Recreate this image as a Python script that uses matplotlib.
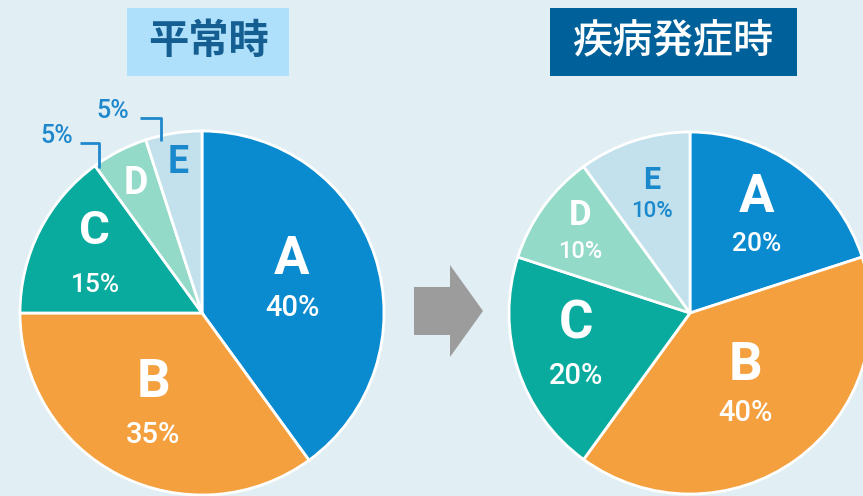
import numpy as np
import matplotlib
matplotlib.use("Agg")
import matplotlib.pyplot as plt
from matplotlib.patches import Rectangle, FancyArrow

W, H = 863, 496

# data
labels = ["A", "B", "C", "D", "E"]
normal_vals = [40, 35, 15, 5, 5]
disease_vals = [20, 40, 20, 10, 10]
titles = ["平常時", "疾病発症時"]

colors = ["#0a8bd0", "#f4a03e", "#0aab9f", "#93dac9", "#c3e1ec"]
txt_colors = ["white", "white", "white", "white", "#1a88cc"]
BG = "#e1eff5"

def py(y):  # pixel row -> data y
    return H - y

fig = plt.figure(figsize=(W / 100, H / 100), dpi=100, facecolor=BG)
ax = fig.add_axes([0, 0, 1, 1])
ax.set_facecolor(BG)

def draw_pie(vals, cx, cy, r, rfac, letter_fs, pct_fs, gap, show_pct):
    ax.pie(vals, center=(cx, py(cy)), radius=r, startangle=90, counterclock=False,
           colors=colors, wedgeprops=dict(edgecolor="white", linewidth=2))
    start = 90.0
    for i, v in enumerate(vals):
        span = v / sum(vals) * 360
        mid = np.radians(start - span / 2)
        start -= span
        x = cx + rfac[i] * r * np.cos(mid)
        y = cy - rfac[i] * r * np.sin(mid)
        if show_pct[i]:
            ax.text(x, py(y - gap[i]), labels[i], ha="center", va="center",
                    fontsize=letter_fs[i], fontweight="bold", color=txt_colors[i], family="Roboto")
            ax.text(x, py(y + gap[i]), f"{v}%", ha="center", va="center",
                    fontsize=pct_fs[i], fontweight="medium", color=txt_colors[i], family="Roboto")
        else:
            ax.text(x, py(y), labels[i], ha="center", va="center",
                    fontsize=letter_fs[i], fontweight="bold", color=txt_colors[i], family="Roboto")

# left pie (normal)
draw_pie(normal_vals, 202, 313, 182,
         rfac=[0.52, 0.59, 0.66, 0.80, 0.84],
         letter_fs=[38, 38, 34, 27, 27], pct_fs=[21, 21, 19, 17, 17],
         gap=[24, 26, 27, 0, 0], show_pct=[True, True, True, False, False])

# small-slice callouts
for (tx, ty, pts), v in zip([(57, 136, [(80, 143), (99, 143), (99, 168)]),
                             (113, 111, [(140, 118), (161, 118), (161, 141)])],
                            normal_vals[3:]):
    ax.text(tx, py(ty), f"{v}%", ha="center", va="center", fontsize=18,
            fontweight="medium", color="#1f88cc", family="Roboto")
    xs, ys = zip(*pts)
    ax.plot(xs, [py(y) for y in ys], color="#1f88cc", lw=2, solid_capstyle="butt")

# right pie (disease)
draw_pie(disease_vals, 690, 313, 181,
         rfac=[0.63, 0.52, 0.66, 0.75, 0.68],
         letter_fs=[38, 38, 38, 25, 22], pct_fs=[19, 21, 21, 17, 16],
         gap=[23, 24, 26, 18, 16], show_pct=[True] * 5)

# arrow
ax.add_patch(FancyArrow(414, py(311), 36, 0, width=48, head_width=92, head_length=33,
                        length_includes_head=False, color="#9c9c9c", lw=0))

# title boxes
ax.add_patch(Rectangle((127, py(76)), 162, 68, color="#aee0fb", lw=0))
ax.text(208, py(41), titles[0], ha="center", va="center", fontsize=29, fontweight="bold",
        color="#155e92", family="Noto Sans CJK JP")
ax.add_patch(Rectangle((550, py(76)), 247, 68, color="#00619a", lw=0))
ax.text(673, py(41), titles[1], ha="center", va="center", fontsize=29, fontweight="medium",
        color="white", family="Noto Sans CJK JP")

ax.set_xlim(0, W)
ax.set_ylim(0, H)
ax.set_aspect("equal")
ax.axis("off")
fig.savefig("out.png", dpi=100, facecolor=BG)
